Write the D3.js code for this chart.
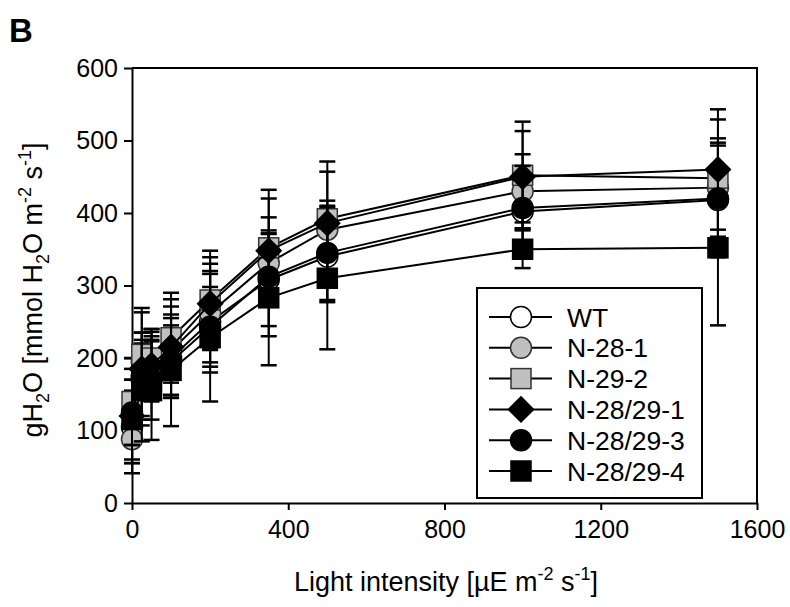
<html>
<head>
<meta charset="utf-8">
<style>
    body { margin: 0; background: white; }
    text { font-family: "Liberation Sans", Arial, sans-serif; fill: black; }
</style>
<script src="https://d3js.org/d3.v7.min.js"></script>
</head>
<body>
<script>
    var width = 790, height = 607;
    var plot = {left: 132, right: 757, top: 68, bottom: 503};

    // light intensities
    let xs = [0, 25, 50, 100, 200, 350, 500, 1000, 1500];

    let names = ["WT", "N-28-1", "N-29-2", "N-28/29-1", "N-28/29-3", "N-28/29-4"];

    // means, one array per line
    let wt      = [105, 170, 185, 200, 250, 308, 340, 402, 418];
    let n28_1   = [88, 195, 195, 210, 262, 331, 377, 430, 435];
    let n29_2   = [140, 205, 200, 228, 280, 352, 392, 452, 448];
    let n2829_1 = [120, 185, 190, 215, 275, 348, 386, 450, 460];
    let n2829_3 = [125, 175, 170, 195, 243, 312, 345, 407, 420];
    let n2829_4 = [115, 155, 155, 183, 228, 283, 310, 350, 352];

    // error bars (sd)
    let wt_sd      = [50, 50, 45, 55, 70, 64, 63, 55, 79];
    let n28_1_sd   = [47, 40, 45, 61, 68, 40, 40, 51, 68];
    let n29_2_sd   = [60, 64, 40, 62, 68, 80, 79, 74, 81];
    let n2829_1_sd = [65, 78, 46, 66, 64, 72, 71, 63, 83];
    let n2829_3_sd = [45, 60, 55, 50, 55, 82, 65, 58, 73];
    let n2829_4_sd = [55, 70, 68, 77, 88, 93, 98, 26, 107];

    let xTicks = [0, 400, 800, 1200, 1600];
    let yTicks = [0, 100, 200, 300, 400, 500, 600];

    let means = [wt, n28_1, n29_2, n2829_1, n2829_3, n2829_4];
    let sds = [wt_sd, n28_1_sd, n29_2_sd, n2829_1_sd, n2829_3_sd, n2829_4_sd];
    let shapes = ["circle", "circle", "square", "diamond", "circle", "square"];
    let fills = ["white", "#c0c0c0", "#c0c0c0", "black", "black", "black"];
    let edges = ["black", "#333", "#333", "black", "black", "black"];

    let svg = d3.select("body").append("svg")
        .attr("width", width)
        .attr("height", height);

    let x = d3.scaleLinear().domain([0, 1600]).range([plot.left, plot.right]);
    let y = d3.scaleLinear().domain([0, 600]).range([plot.bottom, plot.top]);

    // panel letter
    svg.append("text")
        .attr("x", 9)
        .attr("y", 42)
        .style("font-size", "33px")
        .style("font-weight", "bold")
        .text("B");

    // axes
    let xAxis = svg.append("g")
        .attr("transform", "translate(0," + plot.bottom + ")")
        .call(d3.axisBottom(x).tickValues(xTicks).tickFormat(d3.format("d"))
            .tickSize(7).tickSizeOuter(0).tickPadding(10));
    let yAxis = svg.append("g")
        .attr("transform", "translate(" + plot.left + ",0)")
        .call(d3.axisLeft(y).tickValues(yTicks).tickSize(8).tickSizeOuter(0).tickPadding(6));

    [xAxis, yAxis].forEach(function(a){
        a.select(".domain").attr("stroke", "black").attr("stroke-width", 2);
        a.selectAll(".tick line").attr("stroke", "black").attr("stroke-width", 2);
        a.selectAll(".tick text")
            .style("font-size", "25px")
            .style("font-family", "'Liberation Sans', Arial, sans-serif")
            .attr("fill", "black");
    });

    // top and right frame
    svg.append("path")
        .attr("d", "M" + plot.left + "," + plot.top + "H" + plot.right + "V" + plot.bottom)
        .attr("fill", "none")
        .attr("stroke", "black")
        .attr("stroke-width", 2);

    // axis titles
    let xt = svg.append("text")
        .attr("x", 446)
        .attr("y", 591)
        .attr("text-anchor", "middle")
        .style("font-size", "27px");
    xt.append("tspan").text("Light intensity [\u00b5E m");
    xt.append("tspan").attr("dy", -11).style("font-size", "18px").text("-2");
    xt.append("tspan").attr("dy", 11).text(" s");
    xt.append("tspan").attr("dy", -11).style("font-size", "18px").text("-1");
    xt.append("tspan").attr("dy", 11).text("]");

    let yt = svg.append("text")
        .attr("transform", "translate(42,290) rotate(-90)")
        .attr("text-anchor", "middle")
        .style("font-size", "27px");
    yt.append("tspan").text("gH");
    yt.append("tspan").attr("dy", 7).style("font-size", "18px").text("2");
    yt.append("tspan").attr("dy", -7).text("O [mmol H");
    yt.append("tspan").attr("dy", 7).style("font-size", "18px").text("2");
    yt.append("tspan").attr("dy", -7).text("O m");
    yt.append("tspan").attr("dy", -11).style("font-size", "18px").text("-2");
    yt.append("tspan").attr("dy", 11).text(" s");
    yt.append("tspan").attr("dy", -11).style("font-size", "18px").text("-1");
    yt.append("tspan").attr("dy", 11).text("]");

    function drawMarker(g, shape, cx, cy, fill, edge){
        if (shape == "circle") {
            g.append("circle").attr("cx", cx).attr("cy", cy).attr("r", 10.5)
                .attr("fill", fill).attr("stroke", edge).attr("stroke-width", 1.5);
        } else if (shape == "square") {
            g.append("rect").attr("x", cx - 10).attr("y", cy - 10).attr("width", 20).attr("height", 20)
                .attr("fill", fill).attr("stroke", edge).attr("stroke-width", 1.5);
        } else {
            let s = 12.5;
            g.append("path")
                .attr("d", "M" + cx + "," + (cy - s) + "L" + (cx + s) + "," + cy + "L" + cx + "," + (cy + s) + "L" + (cx - s) + "," + cy + "Z")
                .attr("fill", fill).attr("stroke", edge).attr("stroke-width", 1.5);
        }
    }

    let line = d3.line()
        .x(d => x(d[0]))
        .y(d => y(d[1]));

    for (var i = 0; i < names.length; i++) {
        let g = svg.append("g");
        let pts = xs.map((v, j) => [v, means[i][j], sds[i][j]]);

        // error bars
        pts.forEach(function(p){
            let px = x(p[0]);
            g.append("line")
                .attr("x1", px).attr("x2", px)
                .attr("y1", y(p[1] - p[2])).attr("y2", y(p[1] + p[2]))
                .attr("stroke", "black").attr("stroke-width", 2);
            [p[1] - p[2], p[1] + p[2]].forEach(function(v){
                g.append("line")
                    .attr("x1", px - 8).attr("x2", px + 8)
                    .attr("y1", y(v)).attr("y2", y(v))
                    .attr("stroke", "black").attr("stroke-width", 2.5);
            });
        });

        g.append("path")
            .datum(pts)
            .attr("d", line)
            .attr("fill", "none")
            .attr("stroke", "black")
            .attr("stroke-width", 2);

        pts.forEach(function(p){
            drawMarker(g, shapes[i], x(p[0]), y(p[1]), fills[i], edges[i]);
        });
    }

    // legend
    let legend = svg.append("g");
    legend.append("rect")
        .attr("x", 477).attr("y", 288)
        .attr("width", 225).attr("height", 210)
        .attr("fill", "white")
        .attr("stroke", "black")
        .attr("stroke-width", 2);

    names.forEach(function(d, i){
        let ly = 317 + i * 30.8;
        legend.append("line")
            .attr("x1", 489).attr("x2", 552)
            .attr("y1", ly).attr("y2", ly)
            .attr("stroke", "black").attr("stroke-width", 2);
        drawMarker(legend, shapes[i], 521, ly, fills[i], edges[i]);
        legend.append("text")
            .attr("x", 567)
            .attr("y", ly)
            .attr("dy", "0.36em")
            .style("font-size", "26.5px")
            .text(d);
    });
</script>
</body>
</html>
